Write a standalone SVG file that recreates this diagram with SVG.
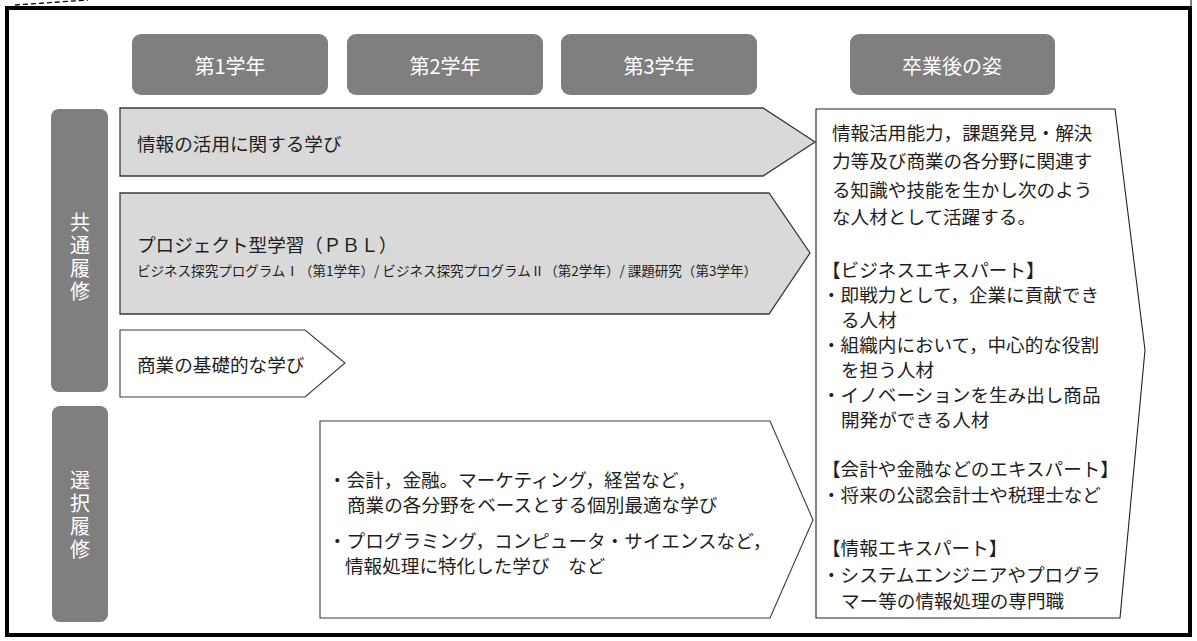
<svg xmlns="http://www.w3.org/2000/svg" width="1197" height="641" viewBox="0 0 1197 641">
<style>
text{font-family:"Noto Sans CJK JP","Noto Sans CJK SC",sans-serif;dominant-baseline:central}
.hd{fill:#7f7f7f}
.hdt{fill:#ffffff;font-size:20px;text-anchor:middle}
.vt{fill:#ffffff;font-size:20px;text-anchor:middle;writing-mode:vertical-rl;letter-spacing:3px}
.row{fill:#d9d9d9;stroke:#3a3a3a;stroke-width:1.3}
.wrow{fill:#ffffff;stroke:#3a3a3a;stroke-width:1.1}
.t{fill:#1e1e1e;font-size:18.6px}
.ts{fill:#1e1e1e;font-size:13.5px}
</style>
<rect x="0" y="0" width="1197" height="641" fill="#ffffff"/>
<g id="frame">
<rect x="7" y="8" width="1183" height="627" fill="none" stroke="#000" stroke-width="4"/>
<line x1="15" y1="5" x2="88" y2="0" stroke="#000" stroke-width="1.3" stroke-dasharray="5,3"/>
<line x1="1191" y1="0" x2="1191" y2="8" stroke="#000" stroke-width="1"/>
</g>
<g id="header-y1"><rect class="hd" x="132" y="34" width="196" height="61" rx="9"/><text class="hdt" x="230" y="65">第1学年</text></g>
<g id="header-y2"><rect class="hd" x="347" y="34" width="196" height="61" rx="9"/><text class="hdt" x="445" y="65">第2学年</text></g>
<g id="header-y3"><rect class="hd" x="561" y="34" width="196" height="61" rx="9"/><text class="hdt" x="659" y="65">第3学年</text></g>
<g id="header-after"><rect class="hd" x="850" y="34" width="205" height="61" rx="9"/><text class="hdt" x="952" y="65">卒業後の姿</text></g>
<g id="label-common"><rect class="hd" x="51" y="109" width="57" height="283" rx="8"/>
<text class="vt" x="80" y="258">共通履修</text></g>
<g id="label-elective"><rect class="hd" x="52" y="406" width="56" height="216" rx="8"/>
<text class="vt" x="80" y="516">選択履修</text></g>
<g id="row-info"><polygon class="row" points="120,108 763,108 815,142 763,176 120,176"/><text class="t" x="137" y="142">情報の活用に関する学び</text></g>
<g id="row-pbl"><polygon class="row" points="120,193 769,193 810,253 769,314 120,314"/>
<text class="t" x="137" y="243">プロジェクト型学習（ＰＢＬ）</text>
<text class="ts" x="137" y="270" textLength="620" lengthAdjust="spacingAndGlyphs">ビジネス探究プログラムⅠ（第1学年）/ ビジネス探究プログラムⅡ（第2学年）/ 課題研究（第3学年）</text></g>
<g id="row-basic"><polygon class="wrow" points="120,330 305,330 345,363 305,397 120,397"/><text class="t" x="137" y="363">商業の基礎的な学び</text></g>
<g id="row-elective"><polygon class="wrow" points="320,421 770,421 813,520 770,618 320,618"/>
<text class="t"><tspan x="328" y="478">・会計，金融。マーケティング，経営など，</tspan><tspan x="347" y="503">商業の各分野をベースとする個別最適な学び</tspan></text>
<text class="t"><tspan x="328" y="539">・プログラミング，コンピュータ・サイエンスなど，</tspan><tspan x="345" y="564">情報処理に特化した学び　など</tspan></text></g>
<g id="after-graduation"><polygon fill="#ffffff" stroke="#222" stroke-width="1.1" points="816,109 1115,109 1145,350 1120,618 816,618"/>
<text class="t"><tspan x="832" y="131">情報活用能力，課題発見・解決</tspan><tspan x="832" y="159">力等及び商業の各分野に関連す</tspan><tspan x="832" y="188">る知識や技能を生かし次のよう</tspan><tspan x="832" y="215">な人材として活躍する。</tspan></text>
<text class="t"><tspan x="822" y="268">【ビジネスエキスパート】</tspan><tspan x="822" y="293">・即戦力として，企業に貢献でき</tspan><tspan x="841" y="318">る人材</tspan><tspan x="822" y="343">・組織内において，中心的な役割</tspan><tspan x="841" y="368">を担う人材</tspan><tspan x="822" y="393">・イノベーションを生み出し商品</tspan><tspan x="841" y="418">開発ができる人材</tspan></text>
<text class="t"><tspan x="822" y="467">【会計や金融などのエキスパート】</tspan><tspan x="822" y="493">・将来の公認会計士や税理士など</tspan></text>
<text class="t"><tspan x="822" y="546">【情報エキスパート】</tspan><tspan x="822" y="573">・システムエンジニアやプログラ</tspan><tspan x="841" y="599">マー等の情報処理の専門職</tspan></text></g>
<g id="connectors"></g>
</svg>
